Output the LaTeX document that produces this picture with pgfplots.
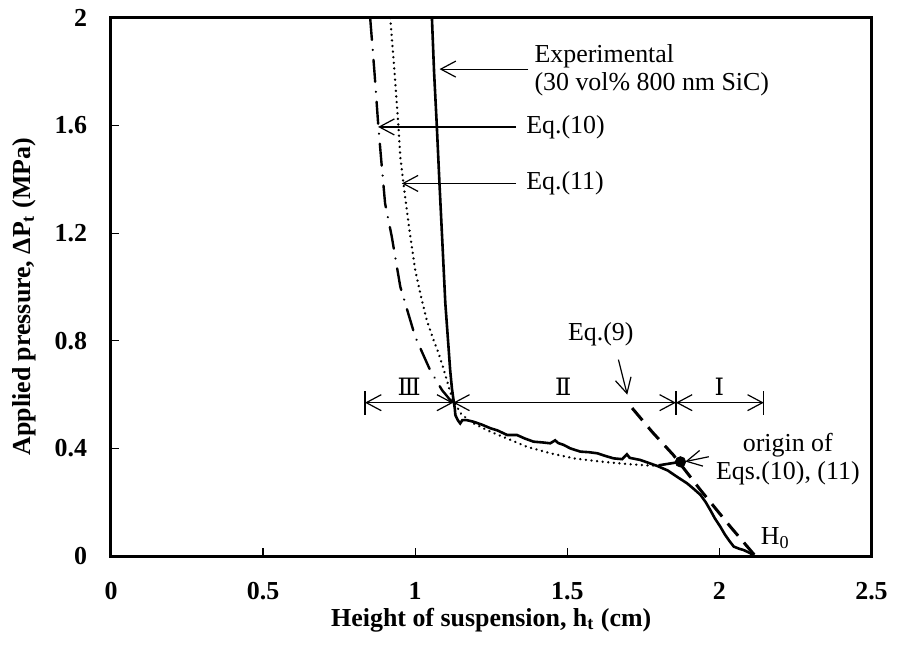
\documentclass[border=0pt]{standalone}
\usepackage{fontspec}
\setmainfont{Liberation Serif}
\newfontfamily\romfont{DejaVu Serif}
\usepackage{pgfplots}
\pgfplotsset{compat=1.18}
\usetikzlibrary{arrows.meta,calc}

\begin{document}
\begin{tikzpicture}[
  barb/.style={-{Straight Barb[length=7.5bp,width=8bp]}, line width=0.6bp},
  dbarb/.style={{Straight Barb[length=7.5bp,width=8bp]}-{Straight Barb[length=7.5bp,width=8bp]}, line width=0.6bp},
  ann/.style={font=\fontsize{13}{15}\selectfont, inner sep=0pt}
]
\begin{axis}[
  scale only axis, width=380.25bp, height=269bp,
  xmin=0, xmax=2.5, ymin=0, ymax=2,
  xtick={0,0.5,1,1.5,2,2.5}, ytick={0,0.4,0.8,1.2,1.6,2},
  tick align=inside, xtick pos=bottom, ytick pos=left,
  major tick length=4bp,
  axis line style={line width=1.5bp},
  tick style={line width=0.6bp, black},
  ticklabel style={font=\bfseries\fontsize{13}{15}\selectfont},
  xticklabel style={yshift=-9.5bp},
  yticklabel style={xshift=-8.5bp},
  /pgf/number format/assume math mode=true,
  xlabel={Height of suspension, h\textsubscript{t} (cm)},
  ylabel={Applied pressure, ΔP\textsubscript{t} (MPa)},
  label style={font=\bfseries\fontsize{13}{15}\selectfont},
  xlabel style={at={(axis description cs:0.5,-0.119)}, anchor=center},
  ylabel style={at={(axis description cs:-0.1144,0.482)}, anchor=center},
  clip=false
]
% Experimental
\addplot[line width=1.3bp] coordinates {
(1.055,2.0)(1.062,1.8)(1.071,1.6)(1.080,1.38)(1.090,1.15)(1.099,0.94)(1.108,0.80)
(1.115,0.69)(1.121,0.62)(1.126,0.58)(1.130,0.55)(1.132,0.524)(1.140,0.505)(1.148,0.493)
(1.155,0.505)(1.170,0.505)(1.192,0.499)(1.22,0.488)(1.247,0.475)(1.27,0.467)(1.302,0.450)
(1.334,0.450)(1.36,0.437)(1.389,0.425)(1.42,0.422)(1.444,0.419)(1.46,0.43)(1.47,0.42)
(1.488,0.413)(1.51,0.40)(1.543,0.388)(1.57,0.386)(1.598,0.382)(1.625,0.372)(1.652,0.363)
(1.68,0.36)(1.696,0.378)(1.705,0.365)(1.74,0.357)(1.77,0.345)(1.795,0.335)(1.83,0.318)
(1.86,0.295)(1.894,0.270)(1.915,0.25)(1.938,0.227)(1.955,0.20)(1.970,0.171)(1.985,0.14)
(2.003,0.109)(2.018,0.08)(2.031,0.059)(2.047,0.035)(2.065,0.027)(2.080,0.022)(2.102,0.010)(2.113,0)
};
\addplot[line width=1.3bp] coordinates {(1.80,0.337)(1.872,0.35)};
% Eq.(11) dotted
\addplot[line width=1.3bp, line cap=round, dash pattern={on 0.01bp off 2.8bp}] coordinates {
(0.918,2.0)(0.932,1.8)(0.945,1.595)(0.951,1.484)(0.962,1.379)(0.98,1.22)(1.0,1.063)
(1.02,0.96)(1.038,0.877)(1.058,0.81)(1.077,0.753)(1.092,0.70)(1.104,0.654)(1.115,0.61)
(1.124,0.58)(1.15,0.53)(1.181,0.499)(1.247,0.462)(1.302,0.437)(1.367,0.406)(1.444,0.382)
(1.521,0.363)(1.609,0.351)(1.696,0.342)(1.773,0.336)(1.80,0.337)
};
% Eq.(10) dash-dot
\addplot[line width=1.2bp, line cap=round, dash pattern={on 11bp off 5bp on 0.01bp off 5bp}] coordinates {
(0.852,2.0)(0.866,1.8)(0.879,1.595)(0.890,1.45)(0.901,1.311)(0.923,1.187)(0.951,1.001)
(1.0,0.815)(1.049,0.691)(1.088,0.617)(1.115,0.58)(1.126,0.572)
};
% Eq.(9) dashed
\addplot[line width=1.5bp, dash pattern={on 8bp off 4.5bp}] coordinates {
(1.713,0.55)(1.78,0.46)(1.849,0.375)(1.938,0.245)(2.036,0.109)(2.118,0)
};
% origin point
\addplot[only marks, mark=*, mark size=2.6bp] coordinates {(1.872,0.35)};

% dimension lines
\draw[dbarb] (axis cs:0.835,0.57) -- (axis cs:1.125,0.57);
\draw[dbarb] (axis cs:1.125,0.57) -- (axis cs:1.857,0.57);
\draw[dbarb] (axis cs:1.857,0.57) -- (axis cs:2.146,0.57);
\draw[line width=0.6bp] (axis cs:0.835,0.525) -- (axis cs:0.835,0.612);
\draw[line width=0.6bp] (axis cs:1.857,0.525) -- (axis cs:1.857,0.612);
\draw[line width=0.6bp] (axis cs:2.146,0.525) -- (axis cs:2.146,0.612);
\node[inner sep=0pt, font=\fontsize{12}{14}\selectfont, anchor=base] at (axis cs:0.98,0.595) {\romfont Ⅲ};
\node[inner sep=0pt, font=\fontsize{12}{14}\selectfont, anchor=base] at (axis cs:1.487,0.595) {\romfont Ⅱ};
\node[inner sep=0pt, font=\fontsize{12}{14}\selectfont, anchor=base] at (axis cs:2.0,0.595) {\romfont Ⅰ};

% annotations
\node[ann, anchor=base west] at (axis cs:1.391,1.836) {Experimental};
\node[ann, anchor=base west] at (axis cs:1.391,1.732) {(30 vol\% 800 nm SiC)};
\draw[barb] (axis cs:1.372,1.81) -- (axis cs:1.080,1.81);
\node[ann, anchor=base west] at (axis cs:1.364,1.571) {Eq.(10)};
\draw[barb] (axis cs:1.332,1.595) -- (axis cs:0.878,1.595);
\node[ann, anchor=base west] at (axis cs:1.364,1.361) {Eq.(11)};
\draw[barb] (axis cs:1.332,1.385) -- (axis cs:0.956,1.385);
\node[ann, anchor=base] at (axis cs:1.61,0.80) {Eq.(9)};
\draw[barb] (axis cs:1.668,0.73) -- (axis cs:1.697,0.60);
\node[ann, anchor=base] at (axis cs:2.225,0.388) {origin of};
\node[ann, anchor=base] at (axis cs:2.225,0.283) {Eqs.(10), (11)};
\draw[barb] (axis cs:1.965,0.369) -- (axis cs:1.888,0.351);
\node[ann, anchor=base west] at (axis cs:2.135,0.041) {H\textsubscript{0}};
\end{axis}
\path ($(current axis.south west)+(-55.5bp,-45bp)$) rectangle ($(current axis.north east)+(16.75bp,9bp)$);
\end{tikzpicture}
\end{document}
